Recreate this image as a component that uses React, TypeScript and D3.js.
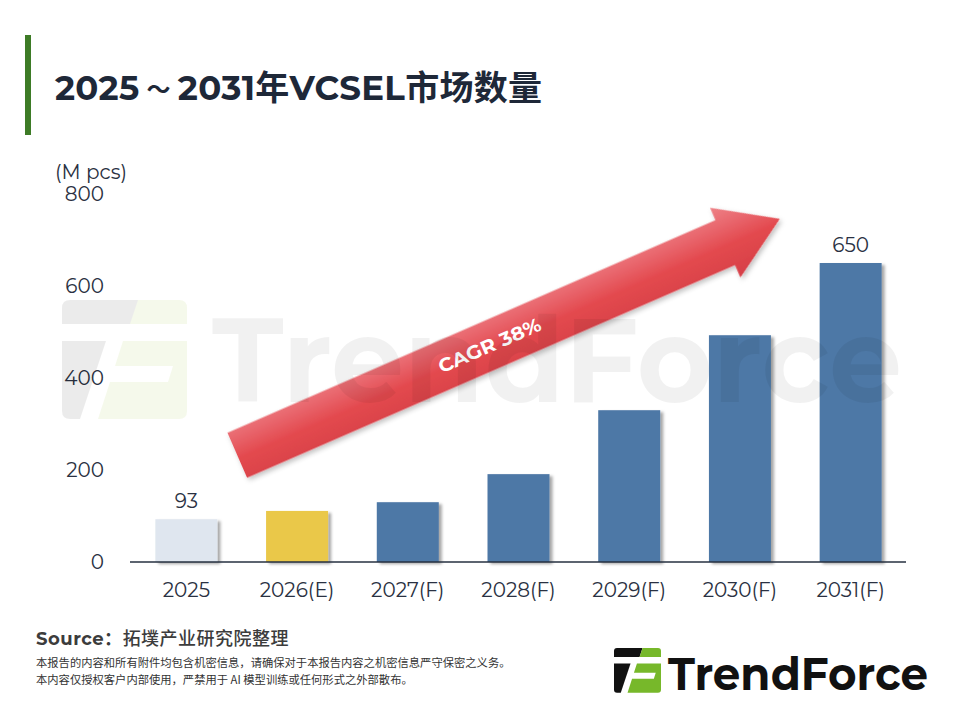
import React from 'react';
import * as d3 from 'd3';

const categories = ['2025', '2026(E)', '2027(F)', '2028(F)', '2029(F)', '2030(F)', '2031(F)'];
const values = [93, 111, 130, 191, 330, 493, 650];
const barColors = ['#dfe6ef', '#eac84a', '#4e78a6', '#4e78a6', '#4e78a6', '#4e78a6', '#4e78a6'];
const yTicks = [0, 200, 400, 600, 800];
const labeledIndices = [0, 6];
const titleParts = ['2025', '～', '2031年VCSEL市场数量'];
const unitText = '(M pcs)';
const cagrText = 'CAGR 38%';
const sourceLabel = 'Source：';
const sourceText = '拓墣产业研究院整理';
const disclaimer = [
  '本报告的内容和所有附件均包含机密信息，请确保对于本报告内容之机密信息严守保密之义务。',
  '本内容仅授权客户内部使用，严禁用于 AI 模型训练或任何形式之外部散布。',
];
// arrow annotation in data space: [category index, offset in steps, value]
const arrowTail = { cat: 0, frac: 0.46, value: 232 };
const arrowTip = { cat: 5, frac: 0.36, value: 746 };

const W = 960;
const H = 720;
const FONT = 'Montserrat, Inter, "Noto Sans CJK SC", sans-serif';
const TEXT = '#2a3142';

const iconPaths = {
  grayTop: 'M8,0 L76,0 L68,24 L0,24 L0,8 Q0,0 8,0 Z',
  greenTop: 'M76,0 L117,0 Q125,0 125,8 L125,24 L68,24 Z',
  grayLow: 'M0,41 L44,41 L18,119 L8,119 Q0,119 0,111 Z',
  greenLow: 'M61,41 L125,41 L125,111 Q125,119 117,119 L36,119 L48,82 L106,82 L111,66 L53,66 Z',
};

function Icon({ x, y, s, dark, green }: { x: number; y: number; s: number; dark: string; green: string }) {
  return (
    <g transform={`translate(${x},${y}) scale(${s})`}>
      <path d={iconPaths.grayTop} fill={dark} />
      <path d={iconPaths.grayLow} fill={dark} />
      <path d={iconPaths.greenTop} fill={green} />
      <path d={iconPaths.greenLow} fill={green} />
    </g>
  );
}

export default function App() {
  const x = d3.scaleBand<string>().domain(categories).range([131, 906]).paddingInner(0.44).paddingOuter(0.22);
  const y = d3.scaleLinear().domain([0, 800]).range([562, 194]);
  const bw = x.bandwidth();
  const step = x.step();

  const ax = (p: { cat: number; frac: number }) => (x(categories[p.cat]) as number) + bw / 2 + p.frac * step;
  const tx = ax(arrowTail), ty = y(arrowTail.value);
  const hx = ax(arrowTip), hy = y(arrowTip.value);
  const ang = (Math.atan2(hy - ty, hx - tx) * 180) / Math.PI;
  const len = Math.hypot(hx - tx, hy - ty);
  const sw = 24.5, hw = 38, hl = 59.5;
  const arrowPts = [
    [0, -sw], [len - hl, -sw], [len - hl, -hw], [len, 0], [len - hl, hw], [len - hl, sw], [0, sw],
  ].map((p) => p.join(',')).join(' ');

  return (
    <div style={{ position: 'absolute', left: 0, top: 0, width: W, height: H, background: '#fff' }}>
      <svg width={W} height={H} viewBox={`0 0 ${W} ${H}`} style={{ display: 'block' }}>
        <defs>
          <filter id="barShadow" x="-20%" y="-20%" width="150%" height="140%">
            <feDropShadow dx="3" dy="2" stdDeviation="1.5" floodColor="#000" floodOpacity="0.35" />
          </filter>
          <filter id="arrowShadow" x="-10%" y="-30%" width="120%" height="160%">
            <feDropShadow dx="1" dy="3" stdDeviation="2.5" floodColor="#000" floodOpacity="0.25" />
          </filter>
          <linearGradient id="arrowGrad" gradientUnits="userSpaceOnUse" x1="0" y1={-hw} x2="0" y2={hw}>
            <stop offset="0" stopColor="#ee8186" />
            <stop offset="0.3" stopColor="#e8636a" />
            <stop offset="0.55" stopColor="#e3494e" />
            <stop offset="1" stopColor="#d63f47" />
          </linearGradient>
        </defs>

        {/* title */}
        <rect x={25} y={35} width={6} height={100} fill="#3d7b26" />
        <text x={55} y={100} fontFamily={FONT} fontWeight={700} fontSize={34} fill="#1e2838" letterSpacing={0.3}>
          {titleParts[0]}
          <tspan fontSize={24} dx={7} dy={-2}>{titleParts[1]}</tspan>
          <tspan dx={7} dy={2}>{titleParts[2]}</tspan>
        </text>

        {/* y axis */}
        <text x={55} y={179} fontFamily={FONT} fontSize={20} fill={TEXT}>{unitText}</text>
        {yTicks.map((t) => (
          <text key={t} x={104} y={y(t)} dy="0.36em" textAnchor="end" fontFamily={FONT} fontSize={20} fill={TEXT}>
            {t}
          </text>
        ))}

        {/* bars */}
        {categories.map((c, i) => (
          <rect key={c} x={x(c)} y={y(values[i])} width={bw} height={y(0) - y(values[i])} fill={barColors[i]} filter="url(#barShadow)" />
        ))}
        <line x1={130} x2={906} y1={y(0)} y2={y(0)} stroke="#263040" strokeWidth={1.6} />

        {categories.map((c) => (
          <text key={c} x={(x(c) as number) + bw / 2} y={590} dy="0.36em" textAnchor="middle" fontFamily={FONT} fontSize={20} fill={TEXT}>
            {c}
          </text>
        ))}
        {labeledIndices.map((i) => (
          <text key={i} x={(x(categories[i]) as number) + bw / 2} y={y(values[i]) - 18} dy="0.36em" textAnchor="middle" fontFamily={FONT} fontSize={20} fill={TEXT}>
            {values[i]}
          </text>
        ))}

        {/* CAGR arrow */}
        <g transform={`translate(${tx},${ty}) rotate(${ang})`}>
          <polygon points={arrowPts} fill="url(#arrowGrad)" filter="url(#arrowShadow)" />
          <text x={len * 0.465} y={0} dy="0.36em" textAnchor="middle" fontFamily={FONT} fontWeight={700} fontSize={19} fill="#fff" textLength={110} lengthAdjust="spacingAndGlyphs">
            {cagrText}
          </text>
        </g>

        {/* watermark overlay */}
        <g>
          <g transform="translate(62,300)">
            <path d={iconPaths.grayTop} fill="#000" fillOpacity={0.08} />
            <path d={iconPaths.grayLow} fill="#000" fillOpacity={0.08} />
            <path d={iconPaths.greenTop} fill="#9cc43a" fillOpacity={0.1} />
            <path d={iconPaths.greenLow} fill="#9cc43a" fillOpacity={0.1} />
          </g>
          <text x={212} y={402} fontFamily={FONT} fontWeight={700} fontSize={118} fill="#000" fillOpacity={0.055} textLength={690} lengthAdjust="spacingAndGlyphs">
            TrendForce
          </text>
        </g>

        {/* source */}
        <text x={36} y={645} fontFamily={FONT} fontWeight={700} fontSize={18} fill="#3c3c3c" letterSpacing={0.5}>
          {sourceLabel}
          <tspan fontWeight={500}>{sourceText}</tspan>
        </text>
        {disclaimer.map((d, i) => (
          <text key={i} x={36} y={667 + i * 17} fontFamily='"Noto Sans CJK SC", sans-serif' fontSize={11.3} fill="#333">
            {d}
          </text>
        ))}

        {/* logo */}
        <Icon x={614} y={648} s={47 / 125} dark="#111" green="#77b82a" />
        <text x={668} y={690} fontFamily={FONT} fontWeight={700} fontSize={46} fill="#111" textLength={260} lengthAdjust="spacingAndGlyphs">
          TrendForce
        </text>
      </svg>
    </div>
  );
}
